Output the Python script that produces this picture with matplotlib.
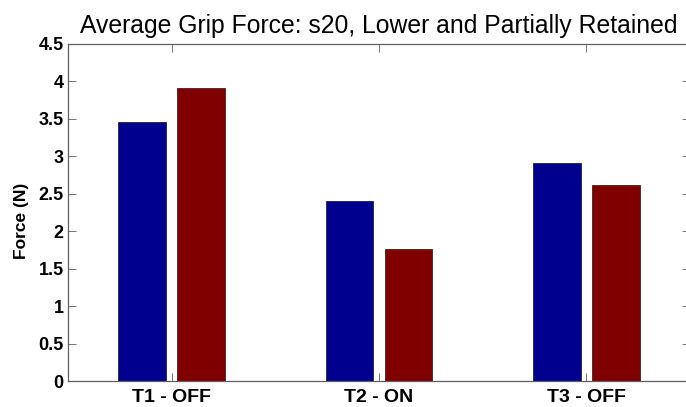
import matplotlib
matplotlib.use("Agg")
import matplotlib.pyplot as plt
import numpy as np

plt.rcParams['font.family'] = ['Liberation Sans', 'DejaVu Sans']

categories = ["T1 - OFF", "T2 - ON", "T3 - OFF"]
series_a = [3.46, 2.40, 2.91]
series_b = [3.91, 1.76, 2.62]
y_ticks = [0, 0.5, 1, 1.5, 2, 2.5, 3, 3.5, 4, 4.5]
y_tick_labels = ["0", "0.5", "1", "1.5", "2", "2.5", "3", "3.5", "4", "4.5"]

fig = plt.figure(figsize=(6.86, 4.07), dpi=100)
# axes extends slightly past the right edge of the canvas
ax = fig.add_axes([68 / 686, 26 / 407, (690 - 68) / 686, (381 - 44) / 407])

x = np.arange(1, len(categories) + 1)
width = 0.229
offset = 0.142
ax.bar(x - offset, series_a, width, color="#00008f", edgecolor="#202040", linewidth=0.6)
ax.bar(x + offset, series_b, width, color="#800000", edgecolor="#402020", linewidth=0.6)

ax.set_xlim(0.5, 3.5)
ax.set_ylim(0, 4.5)
ax.set_xticks(x)
ax.set_xticklabels(categories, fontsize=14, fontweight="bold")
ax.set_yticks(y_ticks)
ax.set_yticklabels(y_tick_labels, fontsize=13, fontweight="bold")
ax.tick_params(direction="in", length=6, width=0.6, color="#606060",
               top=True, right=True)
ax.tick_params(axis="x", pad=6)
ax.tick_params(axis="y", pad=3)
for s in ax.spines.values():
    s.set_color("#606060")
    s.set_linewidth(0.9)

ax.set_ylabel("Force (N)", fontsize=12.5, fontweight="bold")
ax.yaxis.set_label_coords(-0.062, 0.475)
ax.set_title("Average Grip Force: s20, Lower and Partially Retained", fontsize=17.8, pad=8)

fig.savefig("out.png", dpi=100)
